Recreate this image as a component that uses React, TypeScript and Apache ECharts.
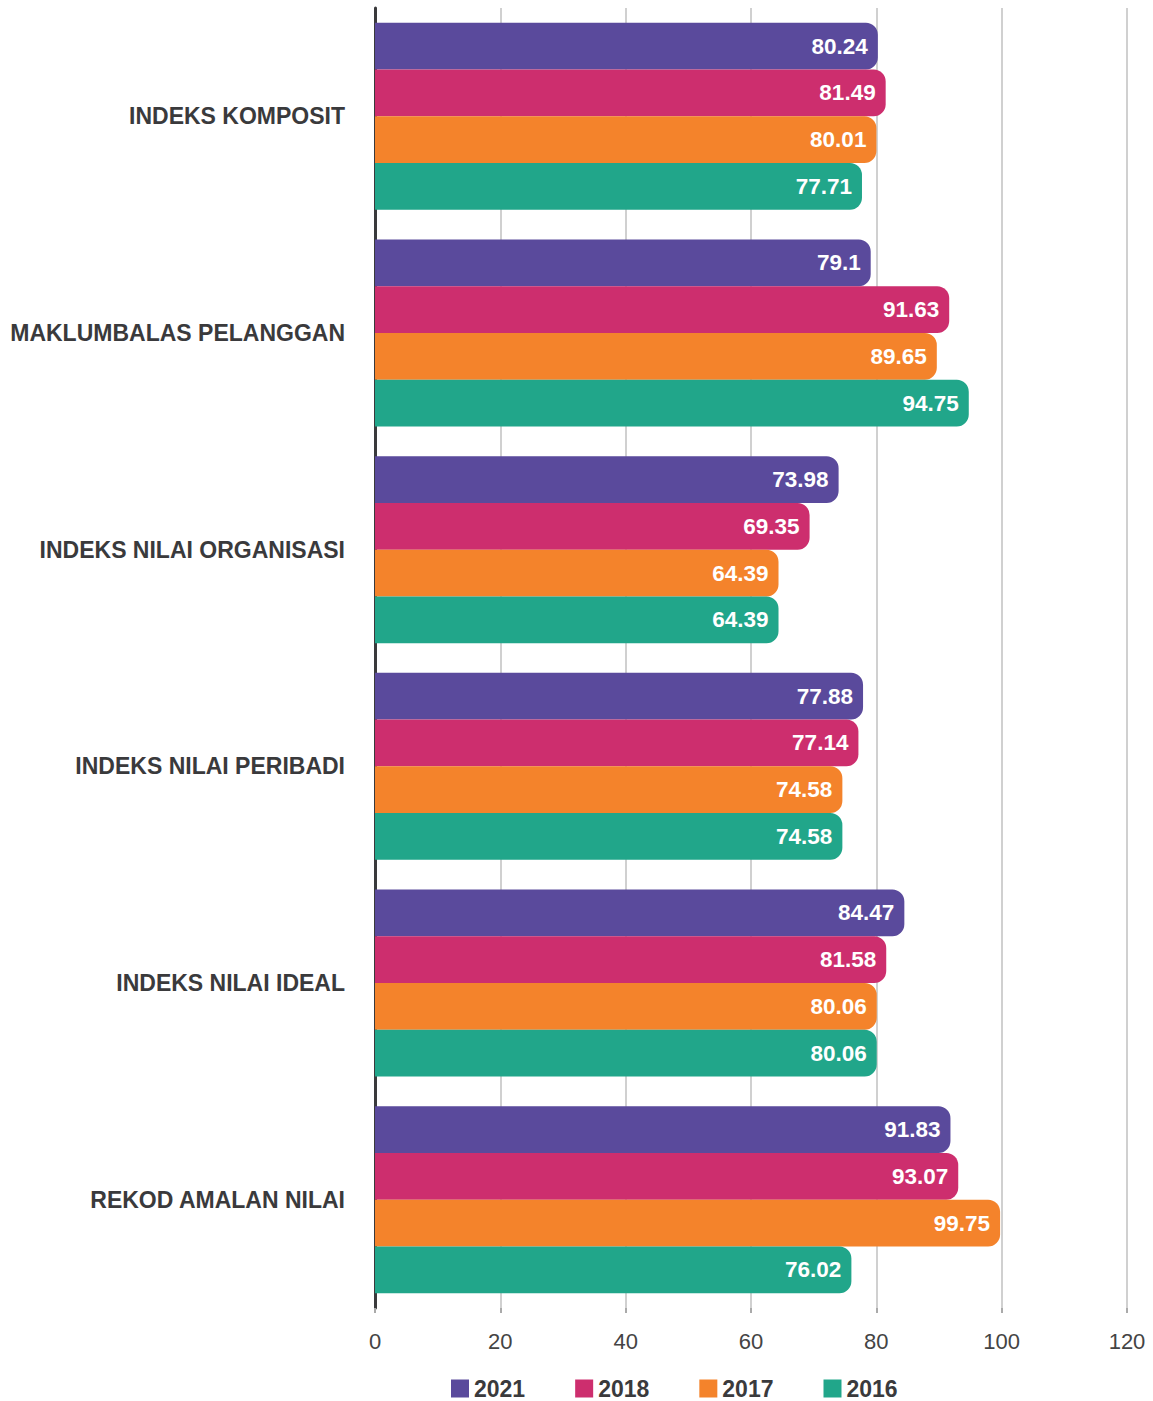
import React, { useEffect, useRef } from "react";
import * as echarts from "echarts";

const categories = [
  "INDEKS KOMPOSIT",
  "MAKLUMBALAS PELANGGAN",
  "INDEKS NILAI ORGANISASI",
  "INDEKS NILAI PERIBADI",
  "INDEKS NILAI IDEAL",
  "REKOD AMALAN NILAI",
];
const seriesNames = ["2021", "2018", "2017", "2016"];
const values2021 = [80.24, 79.1, 73.98, 77.88, 84.47, 91.83];
const values2018 = [81.49, 91.63, 69.35, 77.14, 81.58, 93.07];
const values2017 = [80.01, 89.65, 64.39, 74.58, 80.06, 99.75];
const values2016 = [77.71, 94.75, 64.39, 74.58, 80.06, 76.02];
const seriesColors = ["#5a4a9c", "#cd2e6e", "#f4832b", "#21a68a"];
const xTicks = { min: 0, max: 120, interval: 20 };

export default function App() {
  const ref = useRef<HTMLDivElement>(null);
  useEffect(() => {
    if (!ref.current) return;
    const chart = echarts.init(ref.current, null, { renderer: "svg" });
    const allValues = [values2021, values2018, values2017, values2016];
    chart.setOption({
      animation: false,
      textStyle: { fontFamily: "Liberation Sans, Arial, sans-serif" },
      grid: { left: 375, right: 26, top: 8, height: 1300, containLabel: false },
      legend: {
        left: 446,
        top: 1372,
        padding: 5,
        itemWidth: 18,
        itemHeight: 18,
        itemGap: 50,
        icon: "rect",
        textStyle: { fontSize: 23, lineHeight: 22, fontWeight: "bold", color: "#3a3a3c", fontFamily: "Liberation Sans, Arial, sans-serif" },
        data: seriesNames,
      },
      xAxis: {
        type: "value",
        min: xTicks.min,
        max: xTicks.max,
        interval: xTicks.interval,
        axisLine: { show: false },
        axisTick: { show: true, length: 5, lineStyle: { color: "#aaaaaa", width: 2 } },
        splitLine: { show: true, lineStyle: { color: "#d0d0d0", width: 2 } },
        axisLabel: { fontSize: 22, color: "#444444", margin: 22 },
      },
      yAxis: {
        type: "category",
        inverse: true,
        data: categories,
        axisLine: { show: true, lineStyle: { color: "#3a3a3c", width: 3 } },
        axisTick: { show: false },
        axisLabel: { fontSize: 23, fontWeight: "bold", color: "#3a3a3c", margin: 30 },
      },
      series: seriesNames.map((name, i) => ({
        name,
        type: "bar",
        data: allValues[i],
        barGap: "0%",
        barCategoryGap: "13.7%",
        itemStyle: { color: seriesColors[i], borderRadius: [0, 12, 12, 0] },
        label: {
          show: true,
          position: "insideRight",
          distance: 10,
          color: "#ffffff",
          fontSize: 22.5,
          fontWeight: "bold",
        },
      })),
    });
    return () => chart.dispose();
  }, []);
  return <div ref={ref} style={{ width: 1153, height: 1401, position: "absolute", left: 0, top: 0 }} />;
}
